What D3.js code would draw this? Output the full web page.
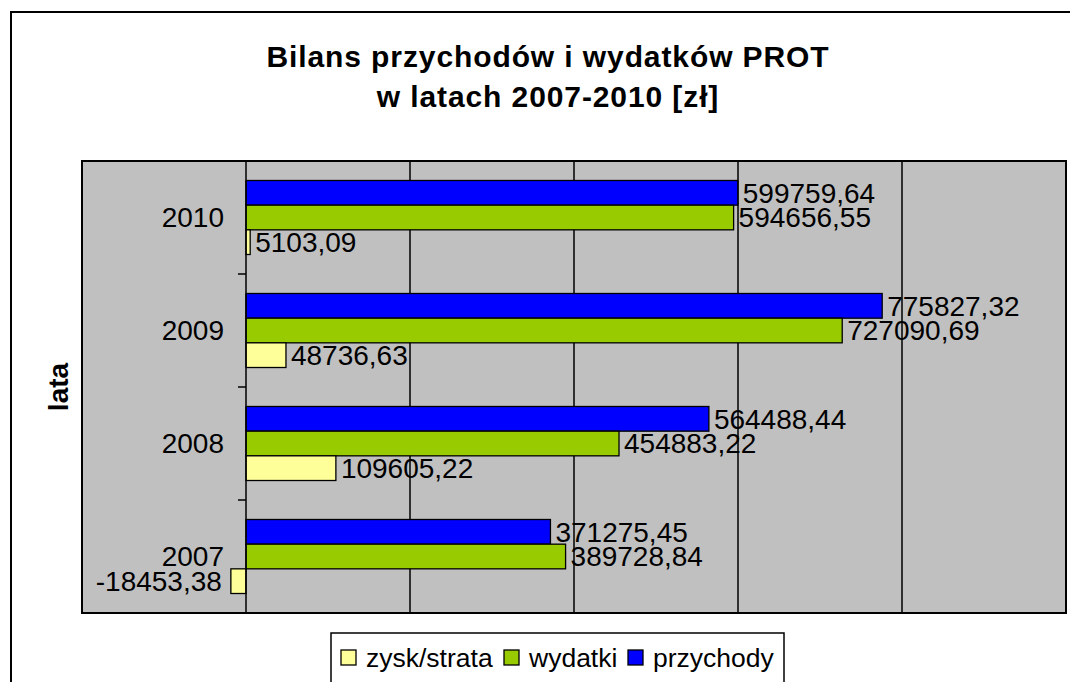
<!DOCTYPE html>
<html>
<head>
<meta charset="utf-8">
<script src="https://cdn.jsdelivr.net/npm/d3@7"></script>
<style>
  html, body { margin: 0; padding: 0; background: #fff; }
  svg { display: block; font-family: "Liberation Sans", Arial, sans-serif; }
</style>
</head>
<body>
<svg id="chart" width="1070" height="682"></svg>
<script>
// ---- data ----
const categories = ["2010", "2009", "2008", "2007"];
const seriesNames = ["przychody", "wydatki", "zysk/strata"];
const przychody = [599759.64, 775827.32, 564488.44, 371275.45];
const wydatki   = [594656.55, 727090.69, 454883.22, 389728.84];
const zysk      = [5103.09, 48736.63, 109605.22, -18453.38];
const legendOrder = ["zysk/strata", "wydatki", "przychody"];
const titleLines = ["Bilans przychodów i wydatków PROT", "w latach 2007-2010 [zł]"];
const axisTitle = "lata";
const xTicks = [-200000, 0, 200000, 400000, 600000, 800000, 1000000];

const seriesValues = { "przychody": przychody, "wydatki": wydatki, "zysk/strata": zysk };
const colors = { "przychody": "#0000FF", "wydatki": "#99CC00", "zysk/strata": "#FFFF99" };

const svg = d3.select("#chart");
const plot = { left: 82, right: 1066, top: 161, bottom: 613 };

// outer frame
svg.append("rect").attr("x", 11).attr("y", 12).attr("width", 1100).attr("height", 700)
  .attr("fill", "#fff").attr("stroke", "#000").attr("stroke-width", 2);

// title
svg.append("g").selectAll("text").data(titleLines).join("text")
  .attr("x", 548).attr("y", (d, i) => 67 + i * 40)
  .attr("text-anchor", "middle").attr("font-weight", "bold").attr("font-size", 30)
  .attr("letter-spacing", "0.9px")
  .text(d => d);

const x = d3.scaleLinear().domain([-200000, 1000000]).range([plot.left, plot.right]);
const y = d3.scaleBand().domain(categories).range([plot.top, plot.bottom])
  .paddingInner(0.345).paddingOuter(0.1725);
const ySub = d3.scaleBand().domain(seriesNames).range([0, y.bandwidth()]);

// plot background
svg.append("rect").attr("x", plot.left).attr("y", plot.top)
  .attr("width", plot.right - plot.left).attr("height", plot.bottom - plot.top)
  .attr("fill", "#C0C0C0");

// gridlines
svg.append("g").selectAll("line").data(xTicks.filter(v => v > 0 && v < 1000000)).join("line")
  .attr("x1", d => x(d)).attr("x2", d => x(d))
  .attr("y1", plot.top).attr("y2", plot.bottom)
  .attr("stroke", "#000").attr("stroke-width", 1.5);

// bars
const rows = [];
categories.forEach((c, i) => seriesNames.forEach(s => rows.push({ cat: c, s: s, v: seriesValues[s][i] })));

svg.append("g").selectAll("rect").data(rows).join("rect")
  .attr("x", d => x(Math.min(0, d.v)))
  .attr("y", d => y(d.cat) + ySub(d.s))
  .attr("width", d => Math.abs(x(d.v) - x(0)))
  .attr("height", ySub.bandwidth())
  .attr("fill", d => colors[d.s])
  .attr("stroke", "#000").attr("stroke-width", 1.3);

// value labels
const fmt = v => v.toFixed(2).replace(".", ",");
svg.append("g").selectAll("text").data(rows).join("text")
  .attr("x", d => d.v >= 0 ? x(d.v) + 5 : x(d.v) - 9)
  .attr("y", d => y(d.cat) + ySub(d.s) + ySub.bandwidth() / 2)
  .attr("dy", "0.35em")
  .attr("text-anchor", d => d.v >= 0 ? "start" : "end")
  .attr("font-size", 28)
  .text(d => fmt(d.v));

// plot border
svg.append("rect").attr("x", plot.left).attr("y", plot.top)
  .attr("width", plot.right - plot.left).attr("height", plot.bottom - plot.top)
  .attr("fill", "none").attr("stroke", "#000").attr("stroke-width", 2);

// category axis (at zero)
const axisG = svg.append("g");
axisG.append("line").attr("x1", x(0)).attr("x2", x(0))
  .attr("y1", plot.top).attr("y2", plot.bottom)
  .attr("stroke", "#000").attr("stroke-width", 1.5);
const boundaries = categories.map(c => y(c) - y.step() * y.paddingOuter()).concat([plot.bottom]);
axisG.selectAll("line.tick").data(boundaries).join("line").attr("class", "tick")
  .attr("x1", x(0) - 8).attr("x2", x(0))
  .attr("y1", d => d).attr("y2", d => d)
  .attr("stroke", "#000").attr("stroke-width", 1.5);
axisG.selectAll("text").data(categories).join("text")
  .attr("x", x(0) - 22)
  .attr("y", d => y(d) + y.bandwidth() / 2)
  .attr("dy", "0.35em")
  .attr("text-anchor", "end").attr("font-size", 28)
  .text(d => d);

// axis title
svg.append("text")
  .attr("transform", `translate(68, ${(plot.top + plot.bottom) / 2}) rotate(-90)`)
  .attr("text-anchor", "middle").attr("font-weight", "bold").attr("font-size", 28)
  .text(axisTitle);

// legend
const leg = svg.append("g");
leg.append("rect").attr("x", 331).attr("y", 633).attr("width", 453).attr("height", 80)
  .attr("fill", "#fff").attr("stroke", "#000").attr("stroke-width", 1.5);
const legX = [341, 504, 628];
const legItems = leg.selectAll("g").data(legendOrder).join("g")
  .attr("transform", (d, i) => `translate(${legX[i]}, 650)`);
legItems.append("rect").attr("width", 15).attr("height", 15)
  .attr("fill", d => colors[d]).attr("stroke", "#000").attr("stroke-width", 1.3);
legItems.append("text").attr("x", 25).attr("y", 17).attr("font-size", 26.5).text(d => d);
</script>
</body>
</html>
